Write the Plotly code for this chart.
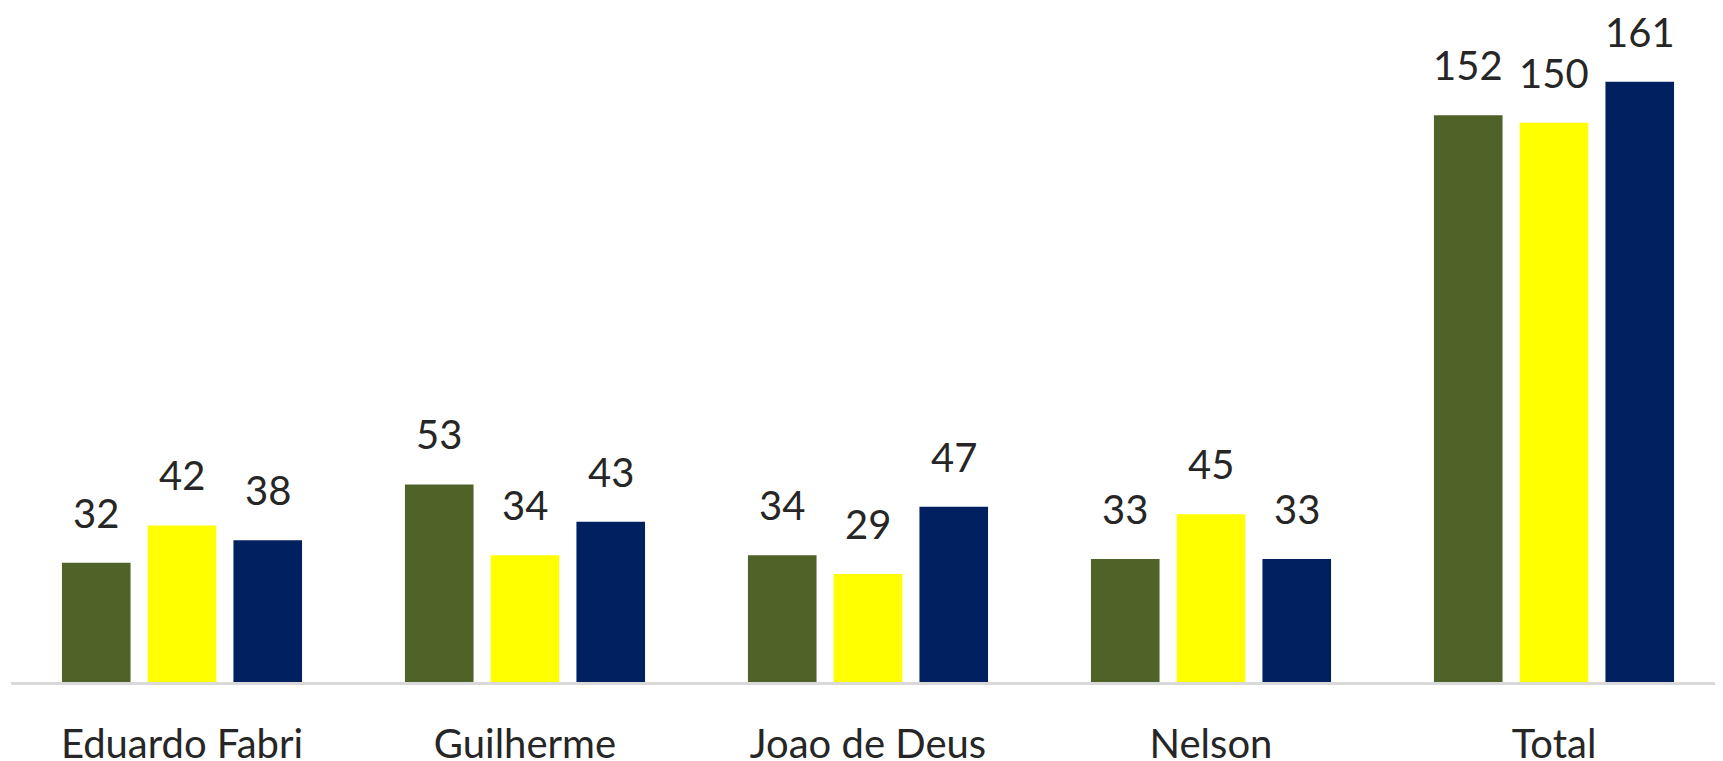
import plotly.graph_objects as go

categories = ["Eduardo Fabri", "Guilherme", "Joao de Deus", "Nelson", "Total"]
series_green = [32, 53, 34, 33, 152]
series_yellow = [42, 34, 29, 45, 150]
series_blue = [38, 43, 47, 33, 161]
series_names = ["Série 1", "Série 2", "Série 3"]
colors = ["#4F6228", "#FFFF00", "#002060"]

# the page body keeps an 8px default margin, so the figure is sized to fit the window
W, H = 1715, 753
ML, MR, MT, MB = 3, 0, 0, 79
BARGAP = 0.25
GROUPGAP = 0.2
CAT_PX = 343.0
FONT = "Lato, 'Open Sans', sans-serif"
TXT = "#262626"

all_series = [series_green, series_yellow, series_blue]

fig = go.Figure()
for name, vals, c in zip(series_names, all_series, colors):
    fig.add_trace(go.Bar(x=categories, y=vals, name=name, marker_color=c,
                         marker_line_width=0))

plot_w = W - ML - MR
x0 = -0.4985
x1 = x0 + plot_w / CAT_PX
slot = CAT_PX * (1 - BARGAP) / 3
for i, vals in enumerate(all_series):
    for cat, v in zip(categories, vals):
        fig.add_annotation(x=cat, y=v, text=str(v), showarrow=False,
                           xref="x", yref="y", xanchor="center", yanchor="bottom",
                           xshift=(i - 1) * slot, yshift=24,
                           font=dict(family=FONT, size=40, color=TXT))

fig.update_layout(
    width=W, height=H,
    margin=dict(l=ML, r=MR, t=MT, b=MB, pad=0, autoexpand=False),
    barmode="group", bargap=BARGAP, bargroupgap=GROUPGAP,
    plot_bgcolor="white", paper_bgcolor="white",
    showlegend=False,
    font=dict(family=FONT, size=40, color=TXT),
)
fig.update_xaxes(showline=True, linecolor="#D9D9D9", linewidth=3,
                 showgrid=False, ticks="", ticklabelstandoff=25,
                 tickfont=dict(family=FONT, size=40, color=TXT),
                 range=[x0, x1])
fig.update_yaxes(visible=False, range=[0, 180.8], showgrid=False, zeroline=False)

fig.write_html("out.html")
